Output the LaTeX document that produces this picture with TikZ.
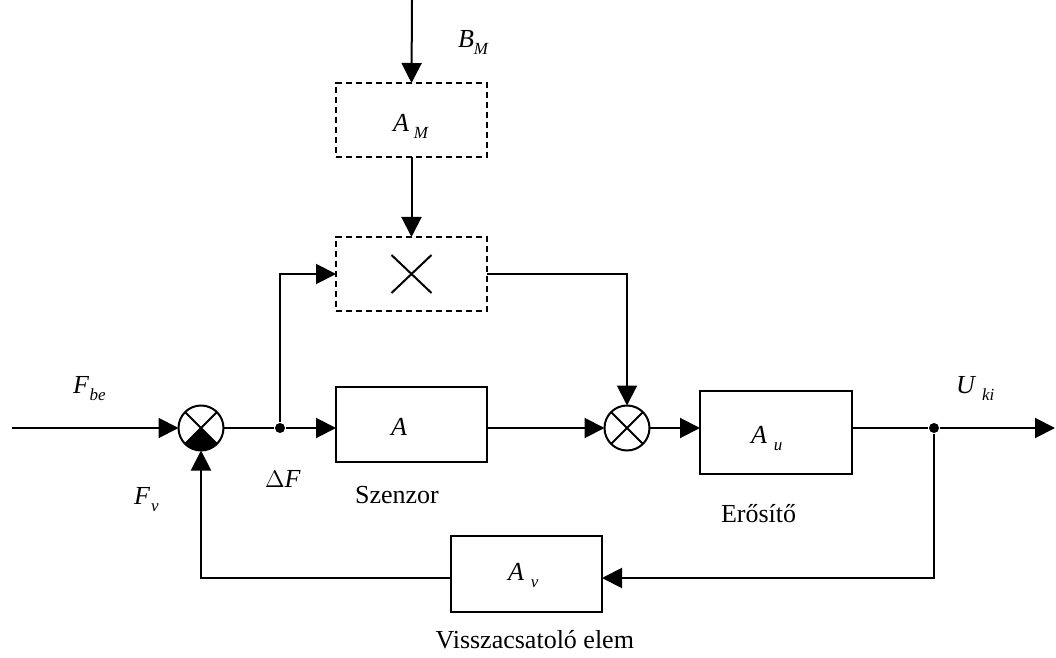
\documentclass[tikz,border=0pt]{standalone}
\usepackage{fontspec}
\setmainfont{Liberation Serif}
\usetikzlibrary{arrows.meta}
\newcommand{\symsub}[3]{\textit{#1}\hspace{#3}\raisebox{-3.5pt}{\fontsize{8.5}{10}\selectfont\textit{#2}}}
\begin{document}
\begin{tikzpicture}[x=0.5pt,y=-0.5pt,
  line width=1pt,
  arr/.style={-{Triangle[length=10pt,width=10pt]}},
  blk/.style={draw, rectangle, inner sep=0pt, outer sep=0pt},
  dblk/.style={blk, dash pattern=on 3.2pt off 1.8pt},
  sumj/.style={draw, circle, minimum size=22.5pt, inner sep=0pt, outer sep=0pt},
  dotn/.style={circle, fill, minimum size=5pt, inner sep=0pt},
  lbl/.style={inner sep=0pt, anchor=base west, font=\fontsize{13}{15}\selectfont},
  txt/.style={inner sep=0pt, font=\fontsize{13}{15}\selectfont}]
\useasboundingbox (0,0) rectangle (1056,658);

% blocks
\node[blk, minimum width=75.5pt, minimum height=37.5pt] (A) at (411.5,424.5) {};
\node[blk, minimum width=76pt, minimum height=41.5pt] (Au) at (776,432.5) {};
\node[blk, minimum width=75.5pt, minimum height=38pt] (Av) at (526.5,574) {};
\node[dblk, minimum width=75.5pt, minimum height=37pt] (AM) at (411.5,120) {};
\node[dblk, minimum width=75.5pt, minimum height=37pt] (M) at (411.5,274) {};
\draw ([shift={(-20,-19)}]M.center) -- ([shift={(20,19)}]M.center)
      ([shift={(-20,19)}]M.center) -- ([shift={(20,-19)}]M.center);

% summing junctions
\node[sumj] (s1) at (201,428) {};
\node[sumj] (s2) at (627,428) {};
\fill (s1.center) -- (s1.south west) arc[start angle=225,end angle=315,radius=11.25pt] -- cycle;
\draw (s1.north west) -- (s1.south east) (s1.north east) -- (s1.south west);
\draw (s2.north west) -- (s2.south east) (s2.north east) -- (s2.south west);

% branch points and free ends
\node[dotn] (d1) at (280,428) {};
\node[dotn] (d2) at (934,428) {};
\coordinate (in) at (12,428);
\coordinate (out) at (1055,428);
\coordinate (top) at (412,0);
\coordinate (fb) at (934,578);

% connectors
\draw[arr] (top) -- (AM.north);
\draw[arr] (AM.south) -- (M.north);
\draw[arr] (in) -- (s1.west);
\draw (s1.east) -- (d1);
\draw[arr] (d1) -- (A.west |- d1);
\draw[arr] (d1) |- (M.west);
\draw[arr] (A.east |- d1) -- (s2.west);
\draw[arr] (M.east) -| (s2.north);
\draw[arr] (s2.east) -- (Au.west |- s2);
\draw (Au.east |- s2) -- (d2);
\draw[arr] (d2) -- (out);
\draw[arr] (d2) |- (Av.east |- fb);
\draw[arr] (Av.west |- fb) -| (s1.south);

% labels
\node[lbl] (lBM) at (457,48) {\symsub{B}{M}{0pt}};
\node[lbl] (lAM) at (392,132) {\symsub{A}{M}{2.5pt}};
\node[lbl] (lA) at (390,435) {\textit{A}};
\node[lbl] (lAu) at (750,443) {\symsub{A}{u}{3.5pt}};
\node[lbl] (lAv) at (507,580) {\symsub{A}{v}{3.5pt}};
\node[lbl] (lFbe) at (72,393) {\symsub{F}{be}{0.3pt}};
\node[lbl] (lFv) at (133,504) {\symsub{F}{v}{0.5pt}};
\node[lbl] (lDF) at (264,487) {$\Delta$\textit{F}};
\node[lbl] (lUki) at (955,393) {\symsub{U}{ki}{3pt}};
\node[txt, anchor=base] (lSz) at (397,503) {Szenzor};
\node[txt, anchor=base west] (lEr) at (720,522) {Erősítő};
\node[txt, anchor=base east] (lVe) at (635,648) {Visszacsatoló elem};
\end{tikzpicture}
\end{document}
